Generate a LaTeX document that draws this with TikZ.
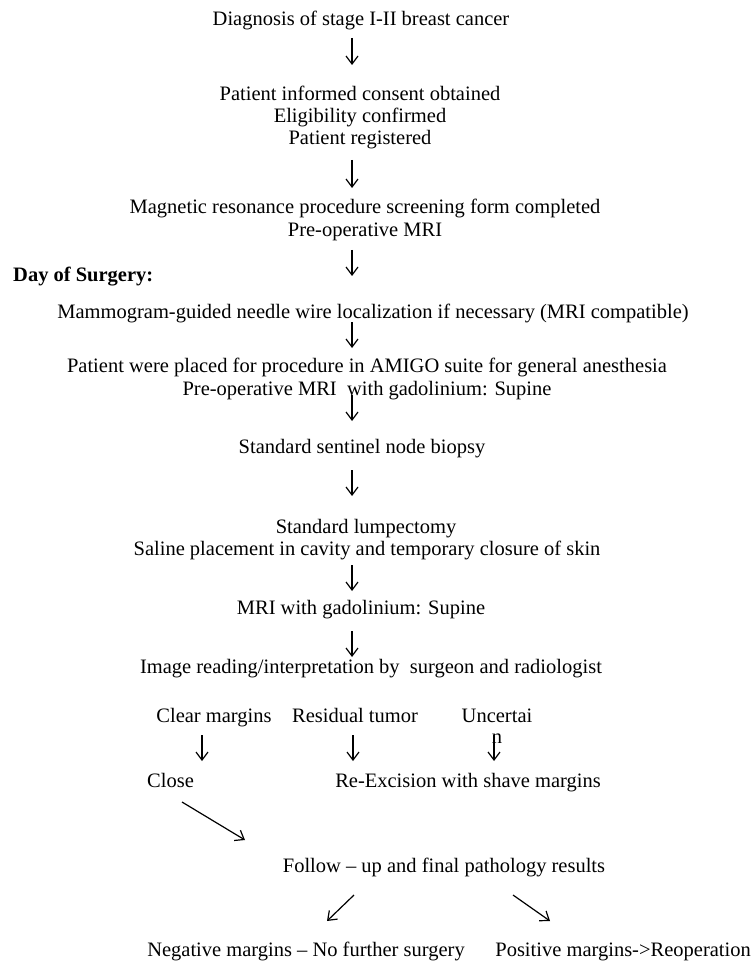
\documentclass[tikz,border=0pt]{standalone}
\usepackage{fontspec}
\setmainfont{Liberation Serif}
\usetikzlibrary{arrows.meta}
\begin{document}
\begin{tikzpicture}[x=1pt,y=-1pt,
  txt/.style={anchor=base,inner sep=0pt,font=\fontsize{20.5}{22}\selectfont},
  arr/.style={-{Straight Barb[length=8pt,width=12pt]},line width=1.2pt}]
\useasboundingbox[fill=white] (0,0) rectangle (754,965);
% texts
\node[txt] (t1) at (361,26) {Diagnosis of stage I-II breast cancer};
\node[txt] (t2a) at (360,101) {Patient informed consent obtained};
\node[txt] (t2b) at (360,123) {Eligibility confirmed};
\node[txt] (t2c) at (360,145) {Patient registered};
\node[txt] (t3a) at (365,214) {Magnetic resonance procedure screening form completed};
\node[txt] (t3b) at (365,237) {Pre-operative MRI};
\node[txt,anchor=base west,font=\fontsize{20.5}{22}\selectfont\bfseries] (day) at (13,282) {Day of Surgery:};
\node[txt] (t4) at (373,318) {Mammogram-guided needle wire localization if necessary (MRI compatible)};
\node[txt] (t5a) at (367,372) {Patient were placed for procedure in AMIGO suite for general anesthesia};
\node[txt] (t5b) at (367,395) {Pre-operative MRI\ \ with gadolinium: Supine};
\node[txt] (t6) at (362,453) {Standard sentinel node biopsy};
\node[txt] (t7a) at (366,533) {Standard lumpectomy};
\node[txt] (t7b) at (367,555) {Saline placement in cavity and temporary closure of skin};
\node[txt] (t8) at (361,614) {MRI with gadolinium: Supine};
\node[txt] (t9) at (371,673) {Image reading/interpretation by\ \ surgeon and radiologist};
\node[txt] (c1) at (214,722) {Clear margins};
\node[txt] (c2) at (355,722) {Residual tumor};
\node[txt] (c3) at (497,722) {Uncertai};
\node[txt] (c3n) at (497,743) {n};
\node[txt,anchor=base west] (close) at (147,787) {Close};
\node[txt] (reex) at (468,787) {Re-Excision with shave margins};
\node[txt] (fol) at (444,872) {Follow -- up and final pathology results};
\node[txt] (neg) at (306,956) {Negative margins -- No further surgery};
\node[txt,anchor=base east] (pos) at (751,956) {Positive margins->Reoperation};
% arrow end points
\coordinate (a1s) at (352,38);  \coordinate (a1e) at (352,65);
\coordinate (a2s) at (352,160); \coordinate (a2e) at (352,188);
\coordinate (a3s) at (352,250); \coordinate (a3e) at (352,276);
\coordinate (a4s) at (352,322); \coordinate (a4e) at (352,348);
\coordinate (a5s) at (352,395); \coordinate (a5e) at (352,421);
\coordinate (a6s) at (352,470); \coordinate (a6e) at (352,496);
\coordinate (a7s) at (352,565); \coordinate (a7e) at (352,591);
\coordinate (a8s) at (352,631); \coordinate (a8e) at (352,657);
\coordinate (b1s) at (202,735); \coordinate (b1e) at (202,761);
\coordinate (b2s) at (353,735); \coordinate (b2e) at (353,761);
\coordinate (b3s) at (494,735); \coordinate (b3e) at (494,761);
\coordinate (ds) at (182,802);  \coordinate (de) at (245,840);
\coordinate (l1s) at (354,895); \coordinate (l1e) at (327,921);
\coordinate (r1s) at (513,895); \coordinate (r1e) at (550,921);
% arrows
\foreach \p in {a1,a2,a3,a4,a5,a6,a7,a8,b1,b2,b3,l1,r1}
  \draw[arr] (\p s) -- (\p e);
\draw[arr] (ds) -- (de);
\end{tikzpicture}
\end{document}
